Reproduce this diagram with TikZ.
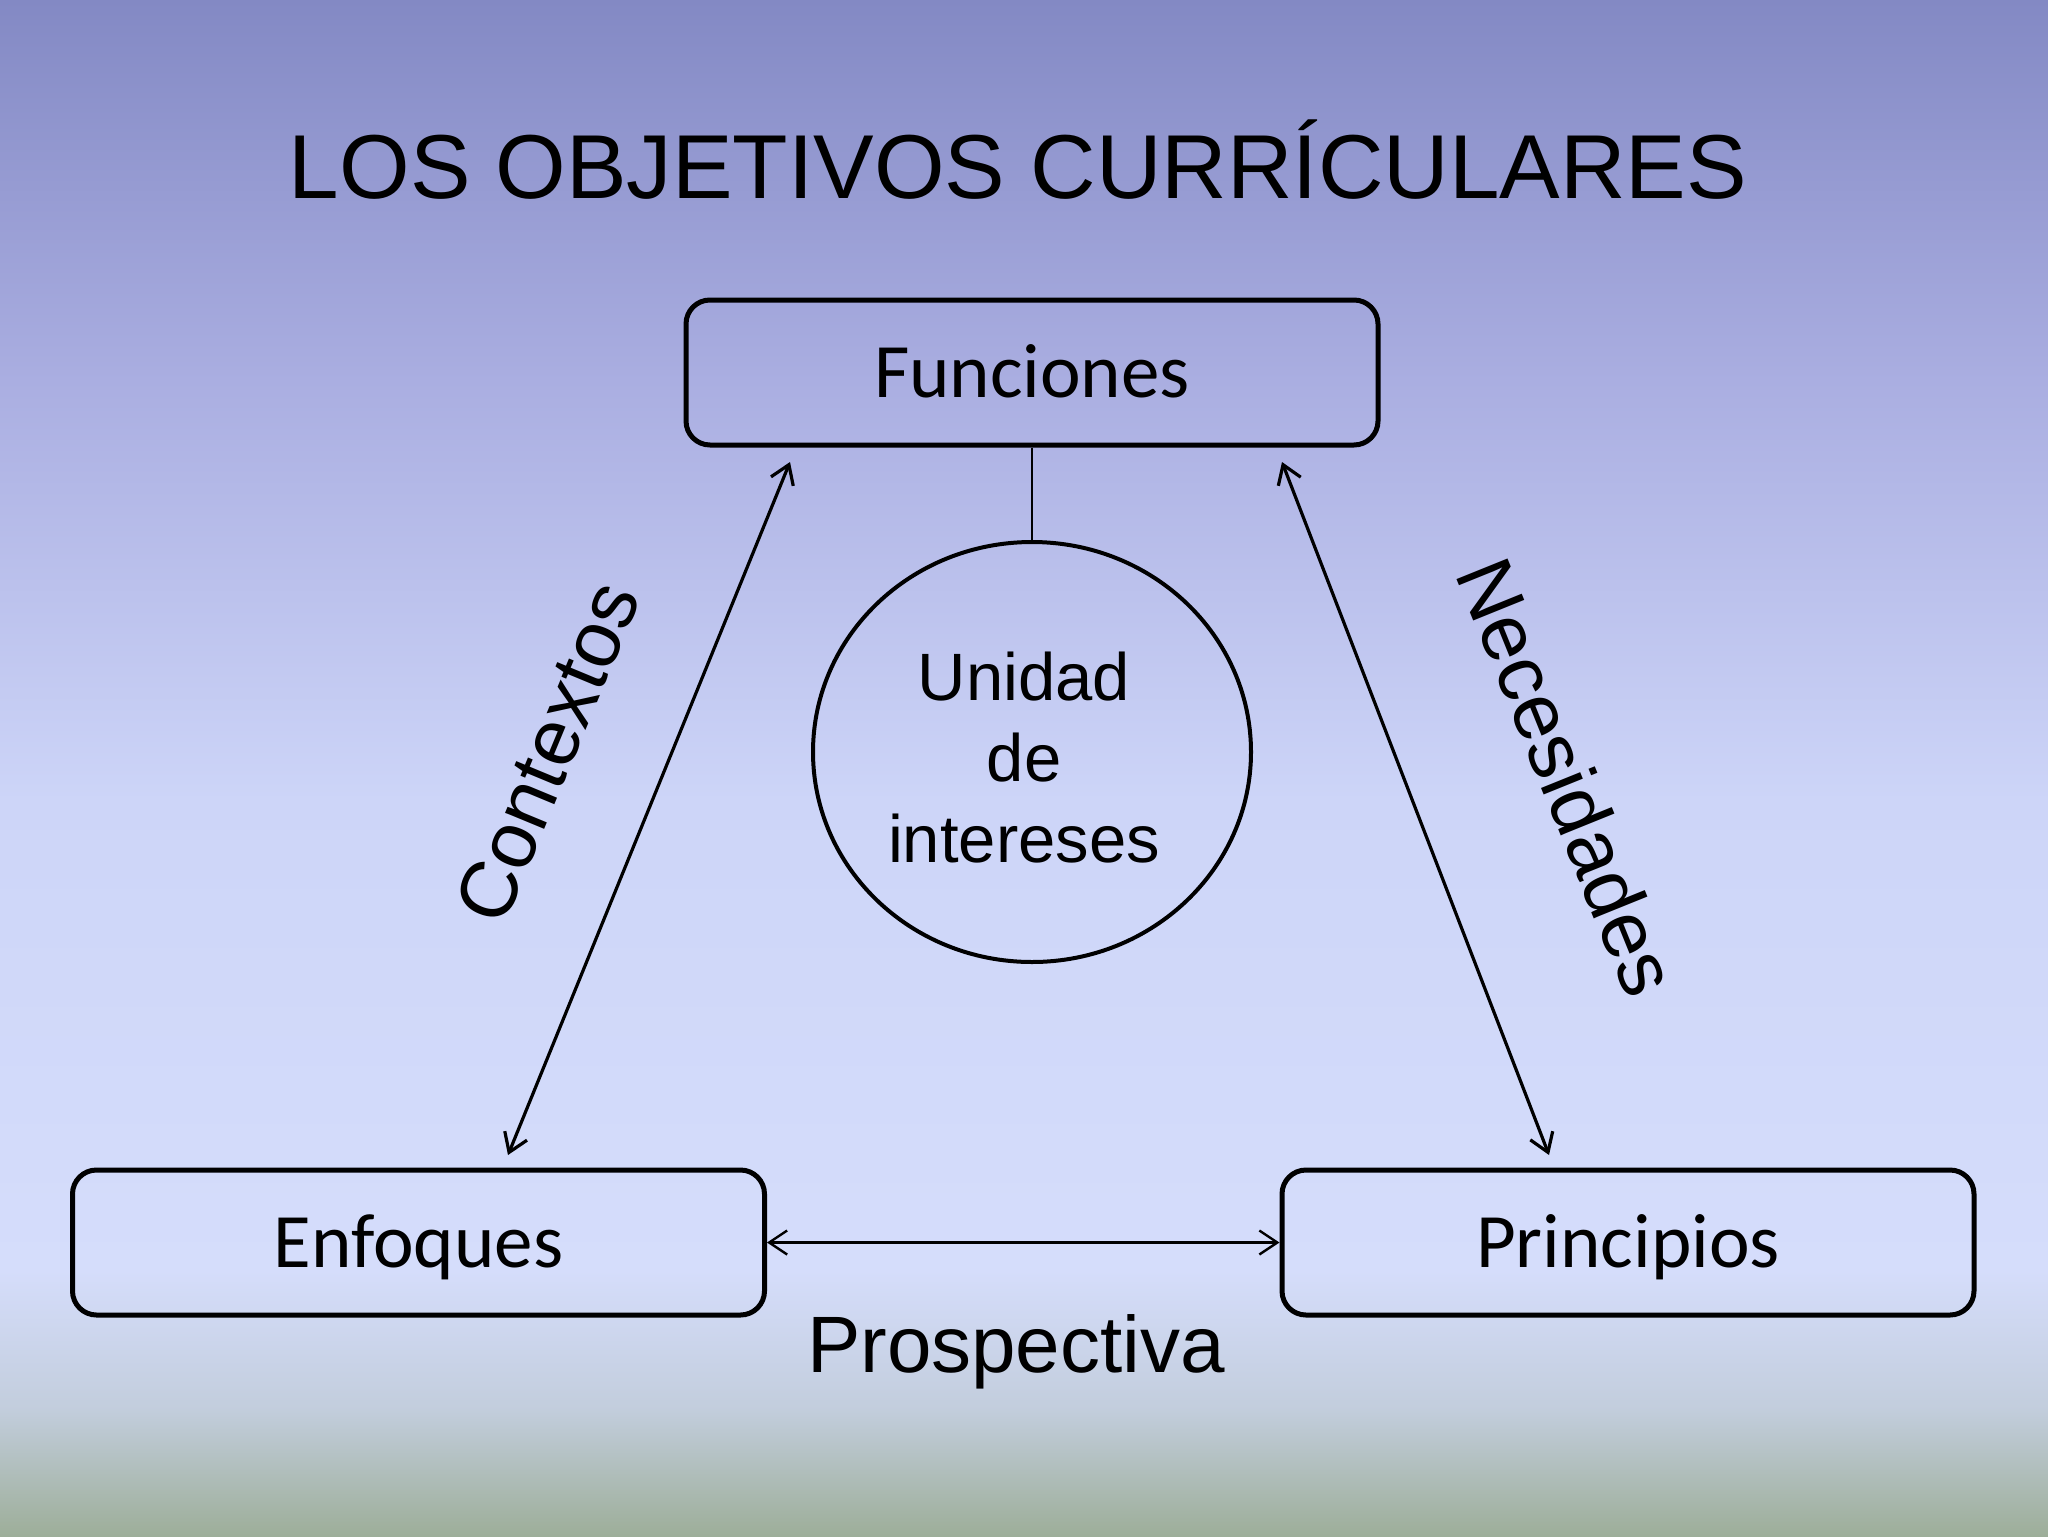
\documentclass[tikz,border=0pt]{standalone}
\usepackage{fontspec}
\setmainfont{Liberation Sans}
\newfontfamily\cali{Carlito}
\usetikzlibrary{arrows.meta,shapes.geometric}
\definecolor{bgA}{HTML}{8389C4}
\definecolor{bgB}{HTML}{AAAEE1}
\definecolor{bgC}{HTML}{CDD5F8}
\definecolor{bgD}{HTML}{D5DDFB}
\definecolor{bgE}{HTML}{C2CDDC}
\definecolor{bgF}{HTML}{9DAE99}
\tikzset{
  boxnode/.style={draw, line width=2.5pt, rounded corners=12pt, minimum width=346pt,
    minimum height=72.5pt, inner sep=0pt, text height=25pt, text depth=0pt,
    font=\cali\fontsize{38.5}{46}\selectfont},
  rimnode/.style={ellipse, draw, line width=2pt, minimum width=219pt, minimum height=210pt,
    inner sep=0pt, align=center, text height=110pt, text depth=0pt,
    font=\fontsize{33.5}{40.5}\selectfont},
  lbl/.style={inner sep=0pt, font=\fontsize{40}{48}\selectfont},
  biarrow/.style={{Straight Barb[length=9pt,width=12pt]}-{Straight Barb[length=9pt,width=12pt]}},
}
\begin{document}
\begin{tikzpicture}[x=0.5pt,y=-0.5pt]
\useasboundingbox (0,0) rectangle (2048,1536);
% background
\shade[top color=bgA, bottom color=bgB] (0,0) rectangle (2048,381);
\shade[top color=bgB, bottom color=bgC] (0,380) rectangle (2048,801);
\shade[top color=bgC, bottom color=bgD] (0,800) rectangle (2048,1271);
\shade[top color=bgD, bottom color=bgE] (0,1270) rectangle (2048,1411);
\shade[top color=bgE, bottom color=bgF] (0,1410) rectangle (2048,1536);

\node[anchor=base, inner sep=0pt, font=\fontsize{45.4}{54}\selectfont] (title) at (1018,198) {LOS OBJETIVOS CURRÍCULARES};

\node[boxnode] (fun) at (1032,372.5) {Funciones};
\node[boxnode] (enf) at (418.5,1242.5) {Enfoques};
\node[boxnode] (pri) at (1628,1242.5) {Principios};
\node[rimnode] (circ) at (1032,752) {\mbox{Unidad\kern8pt}\\\mbox{de\kern8pt}\\\mbox{intereses\kern8pt}};

\draw[line width=1.3pt] (fun.south) -- (circ.north);

\coordinate (l1) at (790,462);
\coordinate (l2) at (508,1155);
\coordinate (r1) at (1282,462);
\coordinate (r2) at (1549,1155);
\draw[biarrow, line width=1.6pt] (l1) -- (l2);
\draw[biarrow, line width=1.6pt] (r1) -- (r2);
\draw[biarrow, line width=1.2pt] (enf.east) -- (pri.west);

\node[lbl, rotate=67.5] (ctx) at (547,752) {Contextos};
\node[lbl, rotate=-68] (nec) at (1568,777) {Necesidades};
\node[lbl, anchor=base] (pro) at (1016,1372) {Prospectiva};
\end{tikzpicture}
\end{document}
